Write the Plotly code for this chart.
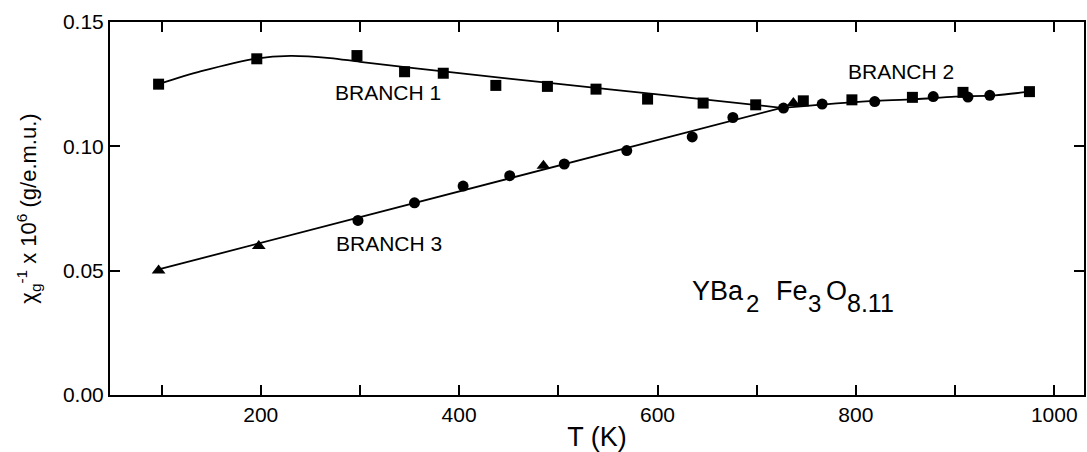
import plotly.graph_objects as go

# ---- data ----
square_T = [97, 196, 297, 345, 384, 437, 489, 538, 590, 646, 699, 747, 796, 857, 908, 975]
square_v = [0.1250, 0.1352, 0.1365, 0.1300, 0.1294, 0.1245, 0.1241, 0.1230, 0.1190, 0.1174, 0.1167,
            0.1183, 0.1187, 0.1197, 0.1217, 0.1220]
circle_T = [298, 355, 404, 451, 506, 569, 635, 676, 727, 766, 819, 878, 913, 935]
circle_v = [0.0702, 0.0773, 0.0840, 0.0882, 0.0929, 0.0983, 0.1038, 0.1116, 0.1154, 0.1170,
            0.1180, 0.1200, 0.1198, 0.1205]
triangle_T = [97, 198, 485, 737]
triangle_v = [0.0501, 0.0599, 0.0922, 0.1174]

branch1_T = [97, 140, 195, 230, 270, 300, 400, 500, 600, 725]
branch1_v = [0.1250, 0.1302, 0.1353, 0.1364, 0.1355, 0.1340, 0.1294, 0.1251, 0.1209, 0.1155]
branch2_T = [725, 800, 860, 900, 940, 975]
branch2_v = [0.1155, 0.1178, 0.1190, 0.1200, 0.1205, 0.1220]
branch3_T = [97, 725]
branch3_v = [0.0505, 0.1155]

x_tickvals = [100, 200, 300, 400, 500, 600, 700, 800, 900, 1000]
x_ticktext = ["", "200", "", "400", "", "600", "", "800", "", "1000"]
y_tickvals = [0.00, 0.05, 0.10, 0.15]
y_ticktext = ["0.00", "0.05", "0.10", "0.15"]

# formula pieces: (text, is_subscript)
formula_parts = [("YBa", False), ("2", True), ("Fe", False), ("3", True), ("O", False), ("8.11", True)]

FONT = "Liberation Sans, Arial, Helvetica, sans-serif"
fig = go.Figure()

for T, v in [(branch1_T, branch1_v), (branch2_T, branch2_v), (branch3_T, branch3_v)]:
    fig.add_trace(go.Scatter(x=T, y=v, mode="lines",
                             line=dict(color="black", width=1.8, shape="spline", smoothing=0.8),
                             hoverinfo="skip", showlegend=False))

fig.add_trace(go.Scatter(x=square_T, y=square_v, mode="markers",
                         marker=dict(symbol="square", size=11, color="black"), showlegend=False))
fig.add_trace(go.Scatter(x=circle_T, y=circle_v, mode="markers",
                         marker=dict(symbol="circle", size=11, color="black"), showlegend=False))
fig.add_trace(go.Scatter(x=triangle_T, y=triangle_v, mode="markers",
                         marker=dict(symbol="triangle-up", size=12, color="black"), showlegend=False))

annots = [
    dict(x=328, y=0.1216, text="BRANCH 1"),
    dict(x=845, y=0.1300, text="BRANCH 2"),
    dict(x=329, y=0.0611, text="BRANCH 3"),
]
for a in annots:
    fig.add_annotation(xref="x", yref="y", showarrow=False, xanchor="center", yanchor="middle",
                       font=dict(family=FONT, color="black", size=21),
                       x=a["x"], y=a["y"], text=a["text"])

# formula placed piece by piece (left edges in T units)
formula_x = [633.6, 687.9, 718.1, 750.3, 768.4, 790.5]
formula_size = [27, 24, 27, 24, 27, 25]
for (txt, is_sub), xl, fs in zip(formula_parts, formula_x, formula_size):
    fig.add_annotation(xref="x", yref="y", showarrow=False, xanchor="left", yanchor="middle",
                       borderpad=0, x=xl, y=0.0368 if is_sub else 0.0419, text=txt,
                       font=dict(family=FONT, color="black", size=fs))

axis_common = dict(showline=True, linecolor="black", linewidth=2, mirror="ticks",
                   ticks="inside", ticklen=10, tickwidth=1.5, tickcolor="black",
                   showgrid=False, zeroline=False,
                   tickfont=dict(family=FONT, size=21, color="black"))

fig.update_xaxes(range=[48, 1030], tickvals=x_tickvals, ticktext=x_ticktext,
                 title=dict(text="T (K)", font=dict(family=FONT, size=27, color="black"), standoff=4),
                 **axis_common)
fig.update_yaxes(range=[0, 0.15], tickvals=y_tickvals, ticktext=y_ticktext,
                 title=dict(text="χ<sub>g</sub><sup>-1</sup> x 10<sup>6</sup> (g/e.m.u.)",
                            font=dict(family=FONT, size=22, color="black"), standoff=20),
                 **axis_common)

fig.update_layout(width=1087, height=452, margin=dict(l=110, r=1, t=22, b=57),
                  plot_bgcolor="white", paper_bgcolor="white",
                  font=dict(family=FONT, color="black"))

fig.write_html("out.html")
